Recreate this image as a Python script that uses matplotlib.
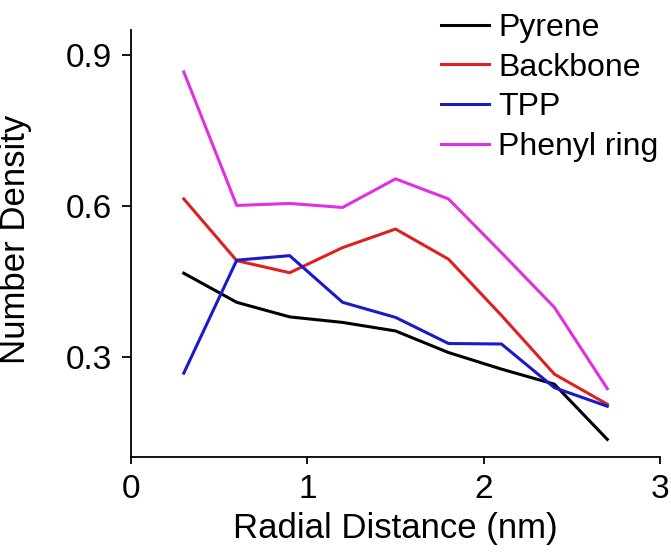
import matplotlib
matplotlib.use("Agg")
import matplotlib.pyplot as plt

plt.rcParams["font.family"] = ["Liberation Sans", "DejaVu Sans"]

# radial distance (nm)
radial = [0.3, 0.6, 0.9, 1.2, 1.5, 1.8, 2.1, 2.4, 2.7]

pyrene = [0.466, 0.408, 0.379, 0.368, 0.351, 0.308, 0.275, 0.245, 0.135]
backbone = [0.614, 0.491, 0.467, 0.517, 0.554, 0.494, 0.382, 0.265, 0.205]
tpp = [0.267, 0.492, 0.501, 0.408, 0.378, 0.326, 0.325, 0.238, 0.201]
phenyl = [0.867, 0.601, 0.605, 0.597, 0.654, 0.614, 0.507, 0.398, 0.236]

series_names = ["Pyrene", "Backbone", "TPP", "Phenyl ring"]
series_colors = ["#000000", "#e02020", "#1a1ac8", "#e030e0"]

fig = plt.figure(figsize=(6.71, 5.6), dpi=100)
ax = fig.add_axes([0.195, 0.184, 0.789, 0.762])

for vals, name, col in zip([pyrene, backbone, tpp, phenyl], series_names, series_colors):
    ax.plot(radial, vals, color=col, lw=2.2, label=name)

ax.set_xlim(0, 3)
ax.set_ylim(0.1, 0.95)
ax.set_xticks([0, 1, 2, 3])
ax.set_yticks([0.3, 0.6, 0.9])
ax.set_yticklabels(["0.3", "0.6", "0.9"])

for side in ["top", "right"]:
    ax.spines[side].set_visible(False)
for side in ["left", "bottom"]:
    ax.spines[side].set_linewidth(1.3)
ax.tick_params(axis="both", direction="out", width=1.3, labelsize=24)
ax.tick_params(axis="y", length=6.5, pad=7)
ax.tick_params(axis="x", length=5, pad=7)

ax.set_xlabel("Radial Distance (nm)", fontsize=25, labelpad=5)
ax.set_ylabel("Number Density", fontsize=25)
ax.yaxis.set_label_coords(-0.187, 0.51)

fig.legend(loc="upper right", bbox_to_anchor=(1.01, 1.011), frameon=False,
           fontsize=23, handlelength=1.5, handletextpad=0.3,
           labelspacing=0.3, borderpad=0.1)

fig.savefig("out.png", dpi=100)
